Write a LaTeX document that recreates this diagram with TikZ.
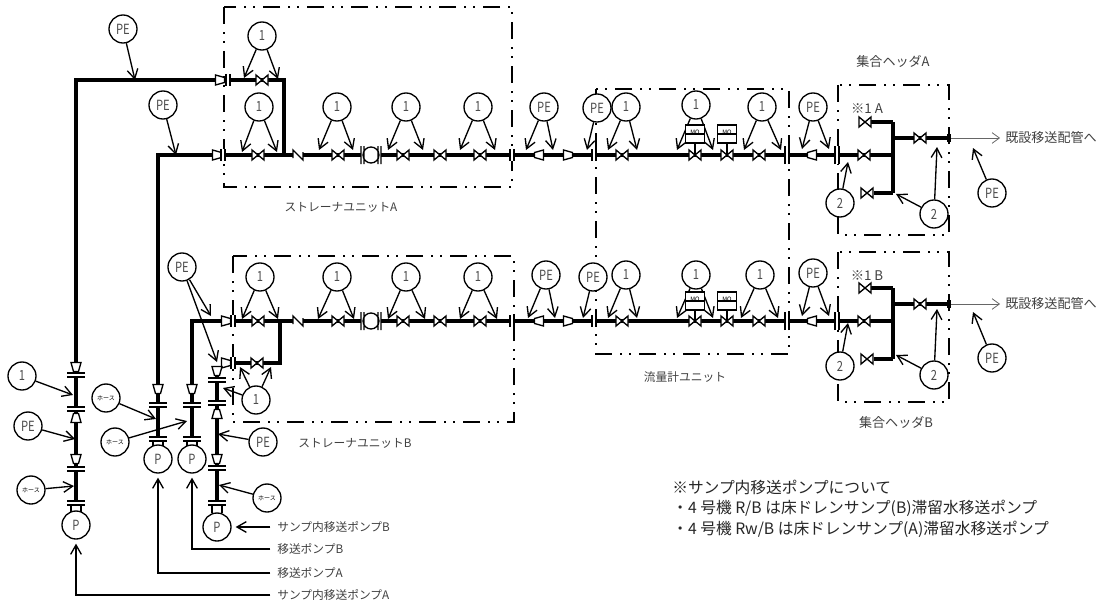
\documentclass[tikz,border=0pt]{standalone}
\usepackage{fontspec}
\setmainfont{Noto Sans CJK JP}
\newfontfamily\tagfont[FakeStretch=0.8]{Noto Sans CJK JP}
\usetikzlibrary{arrows.meta}
\tikzset{
  pipe/.style={line width=2.4pt},
  unitbox/.style={line width=1.8pt,dash pattern=on 13pt off 6pt on 1.5pt off 5pt on 1.5pt off 6pt},
  tag/.style={circle,draw,fill=white,line width=1pt,minimum size=21pt,inner sep=0pt,font=\tagfont\fontsize{10.5}{11}\selectfont,text=black!70},
  hose/.style={tag,font=\fontsize{4.5}{5}\selectfont,text=black},
  leader/.style={line width=1pt,-{Straight Barb[length=7pt,width=8pt]}},
  caption/.style={inner sep=0pt,font=\fontsize{8.8}{10}\selectfont,text=black!75},
  notetext/.style={inner sep=0pt,anchor=west,font=\fontsize{11.8}{13}\selectfont,text=black!85},
  mobox/.style={rectangle,draw,fill=white,line width=1pt,minimum width=14pt,minimum height=13.5pt,inner sep=0pt,
    font=\fontsize{4.5}{5}\selectfont,
    path picture={\draw[line width=1pt] (path picture bounding box.west) -- (path picture bounding box.east);}},
  gatevalve/.pic={\draw[line width=1pt,fill=white] (-6,-5) -- (6,5) -- (6,-5) -- (-6,5) -- cycle;},
  reducer/.pic={\draw[line width=1pt,fill=white] (-4.5,-5) -- (4.5,-2.5) -- (4.5,2.5) -- (-4.5,5) -- cycle;},
  flange/.pic={\fill[white] (-9,-2) rectangle (9,2);\draw[line width=1pt] (-9,-2) -- (9,-2) (-9,2) -- (9,2);},
  hflange/.pic={\fill[white] (-2,-6) rectangle (2,6);\draw[line width=1pt] (-2,-6) -- (-2,6) (2,-6) -- (2,6);},
  checkvalve/.pic={\fill[white] (-5,-6) rectangle (5,6);\draw[line width=1pt] (-5,3) -- (-5,-5) -- (5,5) -- (5,-3);},
  flowelement/.pic={\fill[white] (-10,-9) rectangle (10,9);
    \draw[line width=1pt] (-10,-9) -- (-10,9) (-7,-9) -- (-7,9) (7,-9) -- (7,9) (10,-9) -- (10,9) (0,0) circle (8);},
  pumpneck/.pic={\draw[line width=1pt] (-5,0) -- (-5,8) (5,0) -- (5,8);}
}
\begin{document}
\begin{tikzpicture}[x=0.75pt,y=-0.75pt]
\useasboundingbox (0,0) rectangle (1102,610);
% unit boxes
\draw[unitbox] (224,7) rectangle (512,187);
\draw[unitbox] (233,256) rectangle (514,422);
\draw[unitbox] (596,89) rectangle (789,354);
\draw[unitbox] (838,85) rectangle (949,235);
\draw[unitbox] (838,252) rectangle (949,402);
% pipes
\draw[pipe] (76,503) -- (76,80) -- (215,80);
\draw[pipe] (228,80) -- (284,80) -- (284,155);
\draw[pipe] (158,439) -- (158,155) -- (893,155);
\draw[pipe] (192,439) -- (192,321) -- (893,321);
\draw[pipe] (233,363) -- (280,363) -- (280,321);
\draw[pipe] (217,503) -- (217,368);
\foreach \ry in {155,321}{
  \draw[pipe] (893,\ry-33) -- (893,\ry+38);
  \draw[pipe] (871,\ry-33) -- (893,\ry-33);
  \draw[pipe] (874,\ry+38) -- (893,\ry+38);
  \draw[pipe] (893,\ry-17) -- (949,\ry-17);
}
% valves on both rows
\foreach \ry in {155,321}{
  \foreach \vx in {258,338,403,440,480,622,695,727,759,864}
    \pic at (\vx,\ry) {gatevalve};
  \pic at (298,\ry) {checkvalve};
  \pic at (371,\ry) {flowelement};
  \pic at (539,\ry) [rotate=180] {reducer};
  \pic at (568,\ry) {reducer};
  \pic at (812,\ry) [rotate=180] {reducer};
  \foreach \fx in {512,594}
    \pic at (\fx,\ry) {hflange};
  \foreach \fx in {787,837}
    \pic at (\fx,\ry) [rotate=90] {flange};
  \pic at (865,\ry-33) {gatevalve};
  \pic at (867,\ry+38) {gatevalve};
  \pic at (920,\ry-17) {gatevalve};
}
\pic at (262,80) {gatevalve};
\pic at (257,363) {gatevalve};
\pic at (220,80) {reducer};
\pic at (217,155) {reducer};
\pic at (226,321) {reducer};
\pic at (226,363) {reducer};
\pic at (228,80) {hflange};
\pic at (223,155) {hflange};
\pic at (233,321) {hflange};
\pic at (233,363) {hflange};
% columns
\pic at (76,367) [rotate=-90] {reducer};
\pic at (76,418) [rotate=90] {reducer};
\pic at (76,459) [rotate=-90] {reducer};
\foreach \fy in {375,409,469,503}
  \pic at (76,\fy) {flange};
\foreach \cx in {158,192}{
  \pic at (\cx,389) [rotate=-90] {reducer};
  \foreach \fy in {405,439}
    \pic at (\cx,\fy) {flange};
  \pic at (\cx,441) {pumpneck};
}
\pic at (217,371) [rotate=-90] {reducer};
\pic at (217,414) [rotate=90] {reducer};
\pic at (217,459) [rotate=-90] {reducer};
\foreach \fy in {380,403,468,503}
  \pic at (217,\fy) {flange};
\pic at (76,505) {pumpneck};
\pic at (217,505) {pumpneck};
% pumps
\node[tag] (pumpa) at (76,525) {P};
\node[tag] (pumpb) at (158,459) {P};
\node[tag] (pumpc) at (192,459) {P};
\node[tag] (pumpd) at (217,527) {P};
% tags
\foreach \nm/\x/\y/\txt in {
  pea/123/29/PE, peb/163/105/PE, pec/182/267/PE, ped/28/426/PE, pee/263/442/PE,
  pef/544/107/PE, peg/597/108/PE, peh/813/107/PE, pei/992/193/PE,
  pej/546/275/PE, pek/593/277/PE, pel/813/273/PE, pem/992/358/PE,
  ona/262/36/1, onb/259/107/1, onc/337/107/1, ond/406/107/1, one/478/107/1,
  onf/626/107/1, ong/696/105/1, onh/762/107/1,
  oni/260/277/1, onj/337/277/1, onk/406/277/1, onl/478/277/1,
  onm/626/275/1, onn/696/275/1, ono/760/275/1, onp/256/400/1, onq/22/376/1,
  twa/840/203/2, twb/934/214/2, twc/840/366/2, twd/934/375/2}
  \node[tag] (\nm) at (\x,\y) {\txt};
\foreach \nm/\x/\y in {hoa/31/490, hob/106/398, hoc/115/442, hod/267/498}
  \node[hose] (\nm) at (\x,\y) {ホース};
% leaders
\foreach \src/\tgt/\x/\y in {
  pea/ta/135/80, peb/tb/176/155, pec/tc/211/316, pec/td/217/362, ped/te/75/439,
  pee/tf/218/434, pef/tg/526/150, pef/th/553/150, peg/ti/587/150, peh/tj/802/149,
  peh/tk/829/149, pei/tl/973/148, pej/tm/528/318, pej/tn/555/318, pek/to/583/318,
  pel/tp/802/316, pel/tq/829/316, pem/tr/973/312,
  ona/oa/244/78, ona/ob/278/79, onb/oc/242/152, onb/od/277/152, onc/oe/319/150,
  onc/of/353/150, ond/og/388/150, ond/oh/423/150, one/oi/460/150, one/oj/495/150,
  onf/ok/608/150, onf/ol/637/150, ong/om/677/150, ong/on/713/150, onh/oo/744/150,
  onh/op/781/150, oni/oq/242/319, oni/or/278/319, onj/os/318/319, onj/ot/354/319,
  onk/ou/388/319, onk/ov/425/319, onl/ow/460/319, onl/ox/497/319, onm/oy/608/318,
  onm/oz/637/318, onn/pa/677/318, onn/pb/713/318, ono/pc/741/318, ono/pd/778/318,
  onp/pe/240/367, onp/pf/271/367, onp/pg/223/388, onq/ph/73/395,
  twa/qa/848/162, twb/qb/896/194, twb/qc/937/147, twc/qd/848/323, twd/qe/896/355, twd/qf/937/309,
  hoa/ra/74/486, hob/rb/156/419, hoc/rc/187/421, hod/rd/219/485}{
  \coordinate (\tgt) at (\x,\y);
  \draw[leader] (\src) -- (\tgt);
}
% motor boxes
\foreach \nm/\x/\yb/\yv in {moa/695/134/155, mob/727/134/155, moc/695/301/321, mod/727/301/321}{
  \coordinate (\nm v) at (\x,\yv);
  \draw[line width=1pt] (\x,\yb) -- (\nm v);
  \node[mobox] (\nm) at (\x,\yb) {\raisebox{3.3pt}{MO}};
}
% outlets
\foreach \nm/\ry in {oa/138,ob/304}{
  \node[fill=black,minimum width=3pt,minimum height=6pt,inner sep=0pt] (blk\nm) at (949,\ry) {};
  \node[caption,anchor=west,font=\fontsize{9.8}{11}\selectfont] (out\nm) at (1005,\ry) {既設移送配管へ};
  \draw[line width=0.6pt,draw=black!60,shorten >=3.7pt,-{Straight Barb[length=5.5pt,width=8pt]}] (blk\nm) -- (out\nm.west);
}
% pump labels
\node[caption,anchor=west] (sumpb) at (277,527) {サンプ内移送ポンプB};
\node[caption,anchor=west] (xferb) at (277,549) {移送ポンプB};
\node[caption,anchor=west] (xfera) at (277,573) {移送ポンプA};
\node[caption,anchor=west] (sumpa) at (277,595) {サンプ内移送ポンプA};
\draw[leader,shorten <=5pt,shorten >=3pt] (sumpb.west) -- (pumpd);
\draw[leader,shorten <=5pt,shorten >=3pt] (xferb.west) -| (pumpc.south);
\draw[leader,shorten <=5pt,shorten >=3pt] (xfera.west) -| (pumpb.south);
\draw[leader,shorten <=5pt,shorten >=3pt] (sumpa.west) -| (pumpa.south);
% captions
\node[caption] (unita) at (341,207) {ストレーナユニットA};
\node[caption] (unitb) at (355,443) {ストレーナユニットB};
\node[caption] (meter) at (685,377) {流量計ユニット};
\node[caption,font=\fontsize{9.8}{11}\selectfont] (heada) at (893,62) {集合ヘッダA};
\node[caption,font=\fontsize{9.8}{11}\selectfont] (headb) at (896,422) {集合ヘッダB};
\node[caption,font=\fontsize{10}{11}\selectfont] (marka) at (867,109) {※1 A};
\node[caption,font=\fontsize{10}{11}\selectfont] (markb) at (867,276) {※1 B};
% note
\node[notetext] (notea) at (672,487) {※サンプ内移送ポンプについて};
\node[notetext] (noteb) at (672,508) {・4 号機 R/B は床ドレンサンプ(B)滞留水移送ポンプ};
\node[notetext] (notec) at (672,529) {・4 号機 Rw/B は床ドレンサンプ(A)滞留水移送ポンプ};
\end{tikzpicture}
\end{document}
